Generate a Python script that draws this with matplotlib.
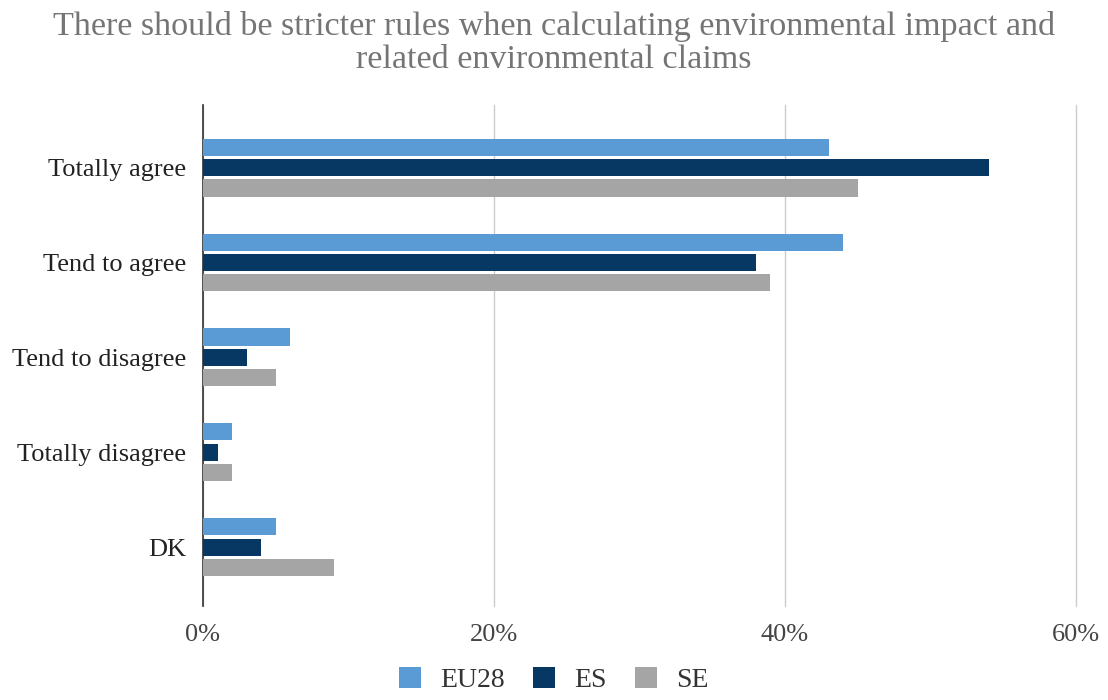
import matplotlib
matplotlib.use("Agg")
import matplotlib.pyplot as plt
import numpy as np
from matplotlib.ticker import FuncFormatter

categories = ["Totally agree", "Tend to agree", "Tend to disagree", "Totally disagree", "DK"]
series_names = ["EU28", "ES", "SE"]
eu28 = [43, 44, 6, 2, 5]
es = [54, 38, 3, 1, 4]
se = [45, 39, 5, 2, 9]
colors = ["#5b9bd5", "#073763", "#a5a5a5"]

plt.rcParams['font.family'] = ['Liberation Serif', 'DejaVu Serif']

fig = plt.figure(figsize=(11.08, 7.0), dpi=100)
ax = fig.add_axes([203/1108, 1 - 606/700, (1076-203)/1108, (606-105)/700])

y = np.arange(len(categories))
h = 0.18
off = 0.215
for i, (vals, name) in enumerate(zip([eu28, es, se], series_names)):
    ax.barh(y + (i - 1) * off, vals, height=h, color=colors[i], label=name, zorder=3)

ax.set_ylim(4.62, -0.66)
ax.set_xlim(0, 60)
ax.set_xticks([0, 20, 40, 60])
ax.xaxis.set_major_formatter(FuncFormatter(lambda v, p: f"{int(v)}%"))
ax.set_yticks(y)
ax.set_yticklabels(categories)
ax.grid(axis='x', color='#cccccc', linewidth=1, zorder=0)
for gl in ax.get_xgridlines():
    gl.set_clip_on(False)
for s in ['top', 'right', 'bottom']:
    ax.spines[s].set_visible(False)
ax.spines['left'].set_color('#333333')
ax.spines['left'].set_linewidth(1.2)
ax.tick_params(axis='y', length=0, pad=12, labelsize=19, labelcolor='#222222')
ax.tick_params(axis='x', length=0, pad=13, labelsize=19, labelcolor='#444444')

fig.suptitle("There should be stricter rules when calculating environmental impact and\nrelated environmental claims",
             y=0.984, fontsize=24.6, color='#757575', linespacing=1.08)

fig.legend(loc='lower center', bbox_to_anchor=(0.5, -0.026), ncol=3, frameon=False,
           fontsize=20, handlelength=0.8, handleheight=0.8, columnspacing=1.0, handletextpad=0.7,
           labelcolor='#333333')

fig.savefig("out.png", dpi=100)
